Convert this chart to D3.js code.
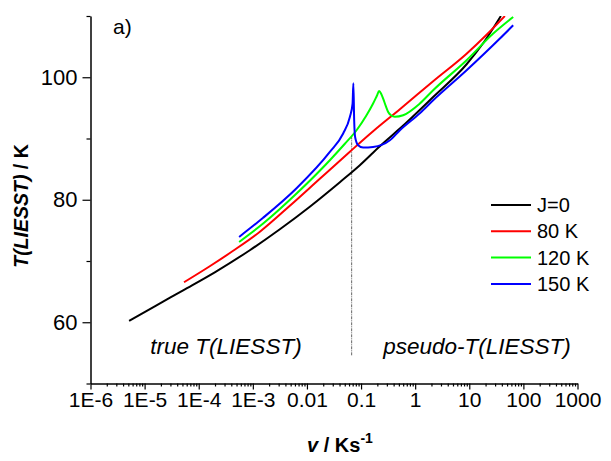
<!DOCTYPE html>
<html>
<head>
<meta charset="utf-8">
<script src="https://cdn.jsdelivr.net/npm/d3@7"></script>
<style>
  body { margin: 0; background: #fff; }
  text { font-family: Arial, "Liberation Sans", sans-serif; fill: #000; }
</style>
</head>
<body>
<svg id="chart" width="611" height="461"></svg>
<script>
// Axis ticks
const xTickValues = [1e-6, 1e-5, 1e-4, 1e-3, 0.01, 0.1, 1, 10, 100, 1000];
const xTickLabels = ["1E-6", "1E-5", "1E-4", "1E-3", "0.01", "0.1", "1", "10", "100", "1000"];
const yTickValues = [60, 80, 100];
const yMinorValues = [50, 70, 90, 110];

// Series: sweep rate v (K/s) and T(LIESST) (K)
const seriesNames = ["J=0", "80 K", "120 K", "150 K"];

const vJ0 = [5.17e-6, 1.54e-5, 5.15e-5, 1.98e-4, 8.80e-4, 3.16e-3, 0.0113, 0.0406, 0.0950, 0.223, 0.522, 2.15, 8.92, 18.6, 38.4];
const tJ0 = [60.21, 62.61, 65.22, 68.16, 71.76, 75.18, 78.86, 82.86, 85.63, 88.73, 91.62, 96.78, 102.12, 105.71, 110.0];

const v80 = [5.35e-5, 1.60e-4, 4.33e-4, 1.35e-3, 4.83e-3, 0.0173, 0.0621, 0.167, 0.522, 2.15, 8.92, 20.9, 45.5];
const t80 = [66.53, 69.14, 71.67, 74.78, 79.02, 83.43, 87.84, 91.18, 94.78, 99.35, 103.84, 106.94, 110.0];

const v120 = [5.58e-4, 1.55e-3, 6.43e-3, 0.0265, 0.0502, 0.0826, 0.123, 0.167, 0.196, 0.216, 0.235, 0.256, 0.287, 0.317, 0.356, 0.422, 0.600, 1.22, 2.15, 8.92, 27.7, 64.8];
const t120 = [73.11, 76.11, 81.01, 86.45, 89.14, 91.35, 93.63, 95.71, 96.98, 97.76, 97.31, 96.52, 95.27, 94.33, 93.80, 93.55, 93.80, 95.71, 97.88, 102.78, 107.13, 109.84];

const v150 = [5.58e-4, 1.55e-3, 6.43e-3, 0.0265, 0.0467, 0.0621, 0.0697, 0.0721, 0.0746, 0.0778, 0.0884, 0.109, 0.167, 0.341, 0.522, 1.22, 2.15, 8.92, 36.8, 64.8];
const t150 = [73.93, 77.06, 81.88, 87.80, 90.81, 93.52, 95.71, 99.02, 92.98, 90.20, 88.90, 88.52, 88.62, 89.71, 91.35, 94.12, 96.24, 101.14, 106.32, 108.49];

// Boundary between the true and pseudo regimes
const boundaryV = 0.067;
const boundaryT = [54.6, 90.3];

const seriesColors = ["#000000", "#ff0000", "#00ff00", "#0000ff"];

const series = [
  { name: seriesNames[0], v: vJ0, t: tJ0 },
  { name: seriesNames[1], v: v80, t: t80 },
  { name: seriesNames[2], v: v120, t: t120 },
  { name: seriesNames[3], v: v150, t: t150 }
];

const svg = d3.select("#chart");
const plotL = 90.5, plotR = 577.5, plotT = 16, plotB = 383.5;

const x = d3.scaleLog().domain([1e-6, 1000]).range([plotL, plotR]);
const y = d3.scaleLinear().domain([50, 110]).range([plotB, plotT]);

svg.append("defs").append("clipPath").attr("id", "plot")
  .append("rect").attr("x", plotL).attr("y", plotT).attr("width", plotR - plotL).attr("height", plotB - plotT);

// Boundary line
svg.append("line")
  .attr("x1", x(boundaryV)).attr("x2", x(boundaryV))
  .attr("y1", y(boundaryT[0])).attr("y2", y(boundaryT[1]))
  .attr("stroke", "#666").attr("stroke-width", 1)
  .attr("stroke-dasharray", "3,1,1,1");

// Curves
const line = d3.line()
  .x(d => x(d[0])).y(d => y(d[1]))
  .curve(d3.curveMonotoneX);

const curves = svg.append("g").attr("clip-path", "url(#plot)");
series.forEach((s, i) => {
  curves.append("path")
    .datum(s.v.map((v, k) => [v, s.t[k]]))
    .attr("d", line)
    .attr("fill", "none")
    .attr("stroke", seriesColors[i])
    .attr("stroke-width", 2);
});

// X axis
const xMinor = [];
for (let e = -6; e < 3; e++) for (let m = 2; m <= 9; m++) xMinor.push(m * Math.pow(10, e));

const xAxisG = svg.append("g").attr("transform", `translate(0,${plotB})`);
xAxisG.call(d3.axisBottom(x).tickValues(xMinor).tickSize(3).tickFormat(""))
  .call(g => g.select(".domain").remove());
const xMajorG = svg.append("g").attr("transform", `translate(0,${plotB})`);
xMajorG.call(d3.axisBottom(x).tickValues(xTickValues).tickSize(6).tickSizeOuter(0)
  .tickFormat((d, i) => xTickLabels[i]));
xMajorG.selectAll("text").attr("font-size", 21).attr("dy", 0).attr("y", 23).attr("font-family", "Arial, 'Liberation Sans', sans-serif");

// Y axis
const yMinorG = svg.append("g").attr("transform", `translate(${plotL},0)`);
yMinorG.call(d3.axisLeft(y).tickValues(yMinorValues).tickSize(4).tickFormat(""))
  .call(g => g.select(".domain").remove());
const yMajorG = svg.append("g").attr("transform", `translate(${plotL},0)`);
yMajorG.call(d3.axisLeft(y).tickValues(yTickValues).tickSize(8).tickSizeOuter(0).tickPadding(5));
yMajorG.selectAll("text").attr("font-size", 22).attr("font-family", "Arial, 'Liberation Sans', sans-serif");

svg.selectAll(".domain").attr("stroke-width", 1.5);
svg.selectAll(".tick line").attr("stroke-width", 1.2);

// Axis titles
const yTitle = svg.append("text")
  .attr("transform", "translate(28,206) rotate(-90)")
  .attr("text-anchor", "middle")
  .attr("font-size", 19.5).attr("font-weight", "bold");
yTitle.append("tspan").attr("font-style", "italic").text("T(LIESST)");
yTitle.append("tspan").text(" / K");

const xTitle = svg.append("text")
  .attr("x", 340).attr("y", 452)
  .attr("text-anchor", "middle")
  .attr("font-size", 20).attr("font-weight", "bold");
xTitle.append("tspan").attr("font-style", "italic").text("v");
xTitle.append("tspan").text(" / Ks");
xTitle.append("tspan").attr("font-size", 14).attr("dy", -9).text("-1");

// Panel label and region labels
svg.append("text").attr("x", 113).attr("y", 34).attr("font-size", 21).text("a)");
svg.append("text").attr("x", 226).attr("y", 354).attr("text-anchor", "middle")
  .attr("font-size", 22.5).attr("font-style", "italic").text("true T(LIESST)");
svg.append("text").attr("x", 477).attr("y", 354).attr("text-anchor", "middle")
  .attr("font-size", 22.5).attr("font-style", "italic").text("pseudo-T(LIESST)");

// Legend
const legend = svg.append("g");
series.forEach((s, i) => {
  const ly = 205 + i * 26.3;
  legend.append("line").attr("x1", 491).attr("x2", 531).attr("y1", ly).attr("y2", ly)
    .attr("stroke", seriesColors[i]).attr("stroke-width", 2);
  legend.append("text").attr("x", 537).attr("y", ly + 7).attr("font-size", 20).text(s.name);
});
</script>
</body>
</html>
